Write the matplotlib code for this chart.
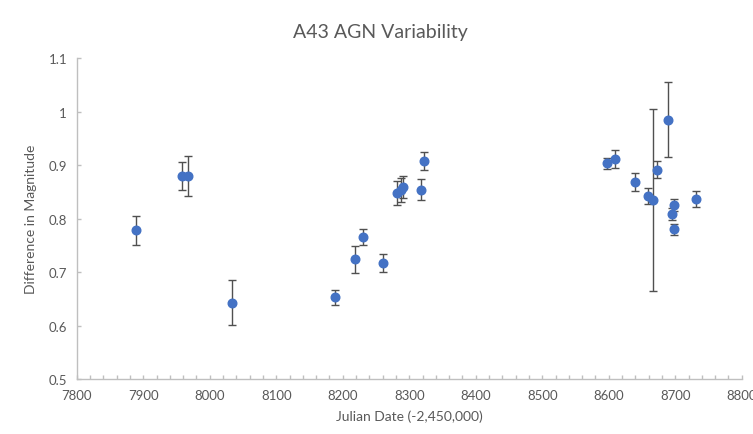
import matplotlib
matplotlib.use("Agg")
import matplotlib.pyplot as plt
from matplotlib.ticker import MultipleLocator, FuncFormatter

julian_date = [7889, 7958, 7967, 8034, 8188, 8219, 8231, 8261, 8281, 8288, 8291, 8317,
               8322, 8598, 8610, 8640, 8659, 8666, 8673, 8689, 8698, 8695, 8698, 8731]
mag_diff = [0.778, 0.879, 0.879, 0.643, 0.653, 0.724, 0.765, 0.717, 0.848, 0.853, 0.859, 0.854,
            0.908, 0.903, 0.912, 0.869, 0.843, 0.835, 0.891, 0.985, 0.825, 0.809, 0.780, 0.836]
mag_err = [0.027, 0.026, 0.037, 0.042, 0.014, 0.025, 0.015, 0.017, 0.023, 0.023, 0.021, 0.020,
           0.017, 0.011, 0.017, 0.017, 0.015, 0.170, 0.016, 0.070, 0.011, 0.011, 0.010, 0.015]

plt.rcParams['font.family'] = ['Lato', 'DejaVu Sans']
TXT = '#595959'
AX = '#bfbfbf'

fig = plt.figure(figsize=(7.53, 4.35), dpi=100)
ax = fig.add_axes([0.102, 0.1264, 0.883, 0.7378])

ax.errorbar(julian_date, mag_diff, yerr=mag_err, fmt='none', ecolor='#505050',
            elinewidth=1.0, capsize=2.6, capthick=1.0, zorder=2)
ax.plot(julian_date, mag_diff, 'o', color='#4472C4', markersize=6.2, zorder=3)

ax.set_xlim(7800, 8800)
ax.set_ylim(0.5, 1.1)
ax.xaxis.set_major_locator(MultipleLocator(100))
ax.xaxis.set_minor_locator(MultipleLocator(20))
ax.yaxis.set_major_locator(MultipleLocator(0.1))
ax.yaxis.set_major_formatter(FuncFormatter(lambda v, p: f"{v:g}"))

for s in ['top', 'right']:
    ax.spines[s].set_visible(False)
for s in ['left', 'bottom']:
    ax.spines[s].set_color(AX)
    ax.spines[s].set_linewidth(1.0)

ax.tick_params(axis='both', which='both', direction='in', color=AX, length=3, width=1,
               labelcolor=TXT, labelsize=9.5)
ax.tick_params(axis='x', pad=7)
ax.tick_params(axis='y', pad=7)

ax.set_xlabel('Julian Date (-2,450,000)', color=TXT, fontsize=10, labelpad=6)
ax.set_ylabel('Difference in Magnitude', color=TXT, fontsize=10, labelpad=8)
fig.text(0.5055, 0.925, 'A43 AGN Variability', color=TXT, fontsize=14, ha='center', va='center')

fig.savefig('out.png', dpi=100)
